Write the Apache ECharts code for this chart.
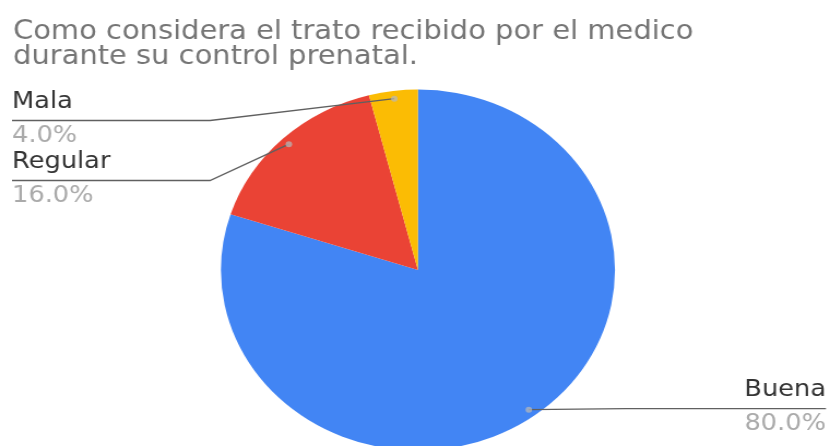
<!DOCTYPE html>
<html>
<head>
<meta charset="utf-8">
<script src="https://cdn.jsdelivr.net/npm/echarts@6/dist/echarts.min.js"></script>
<style>
  html, body { margin: 0; padding: 0; background: #fff; overflow: hidden; }
  /* the chart is drawn on a narrower canvas and widened to the page */
  #chart { width: 760px; height: 446px; transform: scaleX(1.0921); transform-origin: 0 0; }
</style>
</head>
<body>
<div id="chart"></div>
<script>
// ---- data ----
const titleLines = ['Como considera el trato recibido por el medico', 'durante su control prenatal.'];
const categories = ['Buena', 'Regular', 'Mala'];
const values = [80, 16, 4];
const colors = ['#4285F4', '#EA4335', '#FBBC04'];

// ---- layout (canvas units) ----
const CX = 382.7, CY = 270, R = 180.4;
const ANCHOR_R = R * 0.957;     // where the leader lines start inside the slices
const LABEL_TOP = 89;           // labels are kept below this line
const NAME_LH = 21, GAP_LH = 8, PCT_LH = 31;
const LABEL_H = NAME_LH + GAP_LH + PCT_LH;

const FONT = '"DejaVu Sans", Arial, sans-serif';
const total = values.reduce((a, b) => a + b, 0);

const pieData = categories.map((name, i) => ({ name, value: values[i], itemStyle: { color: colors[i] } }));
const anchorData = categories.map((name, i) => ({ name, value: values[i] }));

// mid point of every slice, in value units along the angle axis
const midPoints = [];
let acc = 0;
values.forEach(v => { midPoints.push([1, acc + v / 2]); acc += v; });

const chart = echarts.init(document.getElementById('chart'), null, { renderer: 'canvas' });

chart.setOption({
  backgroundColor: '#ffffff',
  animation: false,
  title: {
    text: titleLines.join('\n'),
    left: 11.9,
    top: 19.5,
    padding: 0,
    textStyle: { fontFamily: FONT, fontSize: 26.5, fontWeight: 'normal', color: '#757575', lineHeight: 25 }
  },
  polar: { center: [CX, CY], radius: ANCHOR_R },
  angleAxis: { type: 'value', min: 0, max: total, startAngle: 90, clockwise: true, show: false },
  radiusAxis: { type: 'value', min: 0, max: 1, show: false },
  series: [
    {
      type: 'pie',
      name: 'slices',
      center: [CX, CY],
      radius: R,
      startAngle: 90,
      clockwise: true,
      silent: true,
      label: { show: false },
      labelLine: { show: false },
      emphasis: { disabled: true },
      itemStyle: { borderWidth: 0 },
      data: pieData,
      z: 1
    },
    {
      type: 'pie',
      name: 'labels',
      left: 0,
      top: LABEL_TOP,
      width: 767.3,
      height: 446 - LABEL_TOP,
      center: [CX, CY - LABEL_TOP],
      radius: ANCHOR_R,
      startAngle: 90,
      clockwise: true,
      silent: true,
      avoidLabelOverlap: true,
      emphasis: { disabled: true },
      itemStyle: { color: 'rgba(0,0,0,0)', borderWidth: 0 },
      label: {
        show: true,
        position: 'outer',
        alignTo: 'edge',
        edgeDistance: 11,
        padding: 0,
        formatter: p => '{n|' + p.name + '}\n{g|}\n{p|' + p.percent.toFixed(1) + '%}',
        rich: {
          n: { fontFamily: FONT, fontSize: 23.5, color: '#333333', lineHeight: NAME_LH },
          g: { height: GAP_LH, lineHeight: GAP_LH, fontSize: 1 },
          p: { fontFamily: FONT, fontSize: 23.5, color: '#aaaaaa', lineHeight: PCT_LH }
        }
      },
      labelLine: { show: true, length: 0, length2: 0, lineStyle: { color: '#606060', width: 1.3 } },
      labelLayout: function (p) {
        const pts = p.labelLinePoints;
        if (!pts) return {};
        const a = pts[0];
        // rule sits between the name and the percentage
        const y = pts[2][1] + (NAME_LH + GAP_LH - LABEL_H / 2);
        const onLeft = p.labelRect.x + p.labelRect.width / 2 < CX;
        const elbowX = onLeft ? CX - R - 10 : CX + R + 10;
        const endX = onLeft ? p.labelRect.x : p.labelRect.x + p.labelRect.width;
        return { labelLinePoints: [[a[0], a[1]], [elbowX, y], [endX, y]] };
      },
      data: anchorData,
      z: 2
    },
    {
      type: 'scatter',
      coordinateSystem: 'polar',
      silent: true,
      symbolSize: 6,
      itemStyle: { color: 'rgba(185,185,185,0.9)' },
      data: midPoints,
      z: 3
    }
  ]
});
</script>
</body>
</html>
